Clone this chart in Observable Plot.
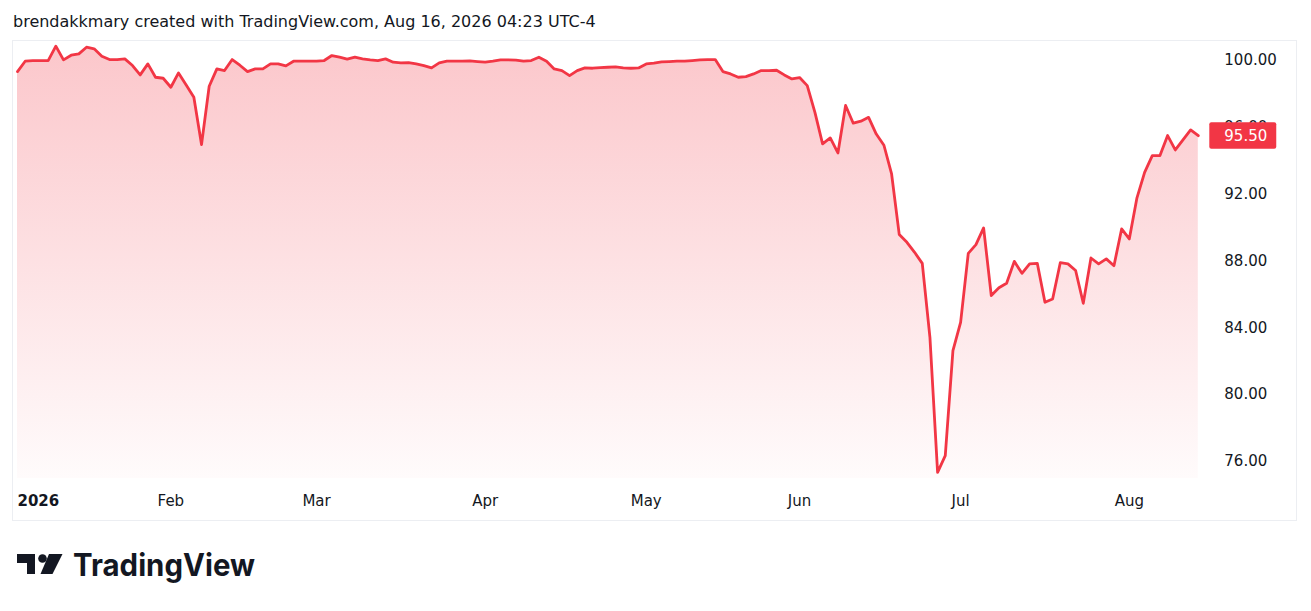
<!DOCTYPE html>
<html><head><meta charset="utf-8">
<script src="https://cdn.jsdelivr.net/npm/d3@7"></script>
<script src="https://cdn.jsdelivr.net/npm/@observablehq/plot@0.6"></script>
<style>
body{margin:0;background:#fff;font-family:"DejaVu Sans",sans-serif;}
#wrap{position:relative;width:1311px;height:611px;overflow:hidden;}
#header{height:40px;box-sizing:border-box;padding:12px 0 0 13px;font-size:16px;color:#131722;line-height:19px;white-space:nowrap;}
#chart svg{display:block}
#frame{position:absolute;left:12px;top:40px;width:1285px;height:481px;border:1px solid #eceef2;box-sizing:border-box;pointer-events:none;}
#logo{position:absolute;left:0;top:540px;}
</style></head>
<body><div id="wrap">
<div id="header">brendakkmary created with TradingView.com, Aug 16, 2026 04:23 UTC-4</div>
<div id="chart"></div>
<div id="frame"></div>
<svg id="logo" width="300" height="50">
  <rect x="17" y="14" width="18" height="9" fill="#131722"/>
  <rect x="27" y="14" width="8" height="20" fill="#131722"/>
  <circle cx="42.5" cy="18.5" r="4.3" fill="#131722"/>
  <polygon points="49,14 62.5,14 52.5,34 40.5,34" fill="#131722"/>
  <text x="73" y="36" font-family="Inter, Roboto, sans-serif" font-weight="700" font-size="31" fill="#131722" textLength="182" lengthAdjust="spacingAndGlyphs">TradingView</text>
</svg>
</div>
<script>
// Daily closes, Jan 2 2026 .. Aug 14 2026 (trading days)
const values = [
  99.34, 99.96, 100.0, 100.0, 100.0, 100.86, 100.04, 100.32, 100.4, 100.8,
  100.7, 100.26, 100.06, 100.06, 100.1, 99.7, 99.14, 99.8, 99.0, 98.94,
  98.4, 99.26, 98.54, 97.8, 94.97, 98.46, 99.5, 99.4, 100.06, 99.72,
  99.34, 99.5, 99.5, 99.8, 99.8, 99.68, 99.96, 99.96, 99.96, 99.96,
  100.0, 100.3, 100.2, 100.08, 100.2, 100.1, 100.04, 100.0, 100.1, 99.9,
  99.86, 99.88, 99.8, 99.7, 99.56, 99.86, 99.96, 99.96, 99.96, 99.98,
  99.94, 99.9, 99.96, 100.04, 100.04, 100.02, 99.96, 100.0, 100.2, 99.96,
  99.5, 99.4, 99.1, 99.4, 99.56, 99.54, 99.58, 99.6, 99.62, 99.56,
  99.54, 99.56, 99.8, 99.84, 99.92, 99.94, 99.96, 99.96, 100.0, 100.04,
  100.06, 100.06, 99.34, 99.2, 99.0, 99.04, 99.2, 99.4, 99.4, 99.42,
  99.14, 98.9, 98.98, 98.5, 96.9, 95.01, 95.37, 94.47, 97.31, 96.25,
  96.37, 96.6, 95.6, 94.93, 93.21, 89.58, 89.12, 88.52, 87.86, 83.43,
  75.35, 76.35, 82.63, 84.33, 88.46, 88.98, 89.98, 85.93, 86.4, 86.67,
  87.98, 87.26, 87.83, 87.86, 85.53, 85.73, 87.9, 87.83, 87.43, 85.47,
  88.18, 87.83, 88.13, 87.72, 89.92, 89.32, 91.78, 93.31, 94.31, 94.31,
  95.51, 94.65, 95.25, 95.85, 95.50
];
const tickIdx = [0, 20, 39, 61, 82, 102, 123, 145];
const tickLabels = ["2026", "Feb", "Mar", "Apr", "May", "Jun", "Jul", "Aug"];
const yTicks = [76, 80, 84, 88, 92, 96, 100];
const yDomain = [74.98, 101.2];

const RED = "#f23645", INK = "#131722";
const lastIdx = values.length - 1, lastVal = values[lastIdx];
const data = values.map((v, i) => ({i, v}));

const chart = Plot.plot({
  width: 1311, height: 481,
  marginLeft: 17, marginRight: 113.2, marginTop: 0, marginBottom: 43,
  x: {domain: [0, lastIdx], axis: null, label: null},
  y: {domain: yDomain, axis: null, label: null},
  style: {fontFamily: "DejaVu Sans, sans-serif", fontSize: "15px", color: INK, background: "transparent", overflow: "visible"},
  marks: [
    Plot.areaY(data, {x: "i", y1: yDomain[0], y2: "v", fill: "url(#tvgrad)", curve: "linear"}),
    Plot.lineY(data, {x: "i", y: "v", stroke: RED, strokeWidth: 2.8, strokeLinejoin: "round"}),
    Plot.axisY(yTicks, {anchor: "right", label: null, tickSize: 0, tickPadding: 26, tickFormat: d => d.toFixed(2), fontSize: 15, fill: INK}),
    Plot.text(tickIdx.slice(1), {x: d => d, frameAnchor: "bottom", dy: 23, lineAnchor: "middle", textAnchor: "middle",
      text: d => tickLabels[tickIdx.indexOf(d)], fontSize: 15, fill: INK}),
    Plot.text([tickIdx[0]], {x: d => d, frameAnchor: "bottom", dy: 23, lineAnchor: "middle", textAnchor: "start",
      text: () => tickLabels[0], fontSize: 15, fontWeight: "bold", fill: INK}),
    Plot.text([lastVal], {x: () => lastIdx, y: d => d, dx: 26, textAnchor: "start", lineAnchor: "middle",
      text: d => d.toFixed(2), fontSize: 15, fill: "white", className: "lastlbl"})
  ]
});

d3.select(chart).insert("defs", ":first-child").html(
  `<linearGradient id="tvgrad" x1="0" y1="0" x2="0" y2="1">
     <stop offset="0" stop-color="${RED}" stop-opacity="0.28"/>
     <stop offset="1" stop-color="${RED}" stop-opacity="0.02"/>
   </linearGradient>`);

document.getElementById("chart").appendChild(chart);

// background badge for the last-price label, in the text's own coordinate space
const lbl = chart.querySelector(".lastlbl");
if (lbl) {
  const t = lbl.querySelector("text");
  const bb = t.getBBox();
  const cy = bb.y + bb.height / 2;
  const r = document.createElementNS("http://www.w3.org/2000/svg", "rect");
  r.setAttribute("x", bb.x - 15);
  r.setAttribute("y", cy - 13.3);
  r.setAttribute("width", bb.width + 24);
  r.setAttribute("height", 26.6);
  r.setAttribute("rx", 2);
  r.setAttribute("fill", RED);
  const tr = t.getAttribute("transform");
  if (tr) r.setAttribute("transform", tr);
  t.parentNode.insertBefore(r, t);
}
</script>
</body></html>
